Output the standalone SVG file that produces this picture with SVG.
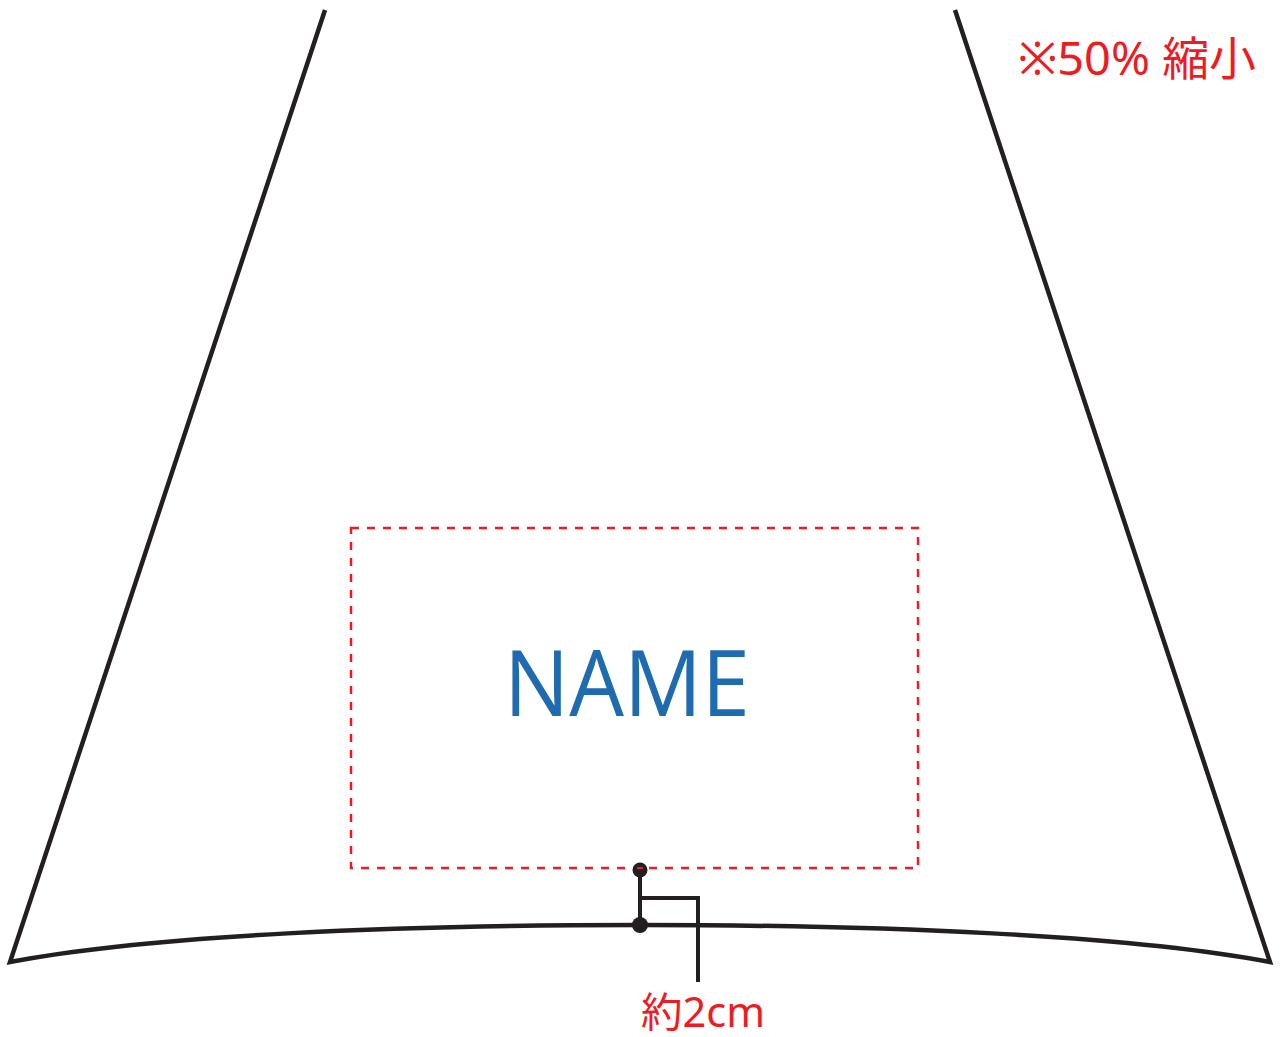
<svg xmlns="http://www.w3.org/2000/svg" width="1282" height="1037" viewBox="0 0 1282 1037">
<style>
.outline{fill:none;stroke:#231f20;stroke-width:4.5;stroke-linejoin:miter}
.dim{fill:none;stroke:#231f20;stroke-width:4}
.area{fill:none;stroke:#ed1c24;stroke-width:2.5;stroke-dasharray:8 8}
.red{fill:#ed1c24;font-family:"Noto Sans","Noto Sans CJK JP",sans-serif}
.name{fill:#1f6bb0;font-family:"Open Sans","Noto Sans",sans-serif}
</style>
<rect width="1282" height="1037" fill="#fff"/>
<g id="umbrella">
<path class="outline" d="M325 10 L10 962 C150 935 400 925 640 925 C880 925 1130 935 1270 962 L955 10"/>
</g>
<g id="print-area">
<rect class="area" x="351" y="528" width="567" height="340"/>
<text class="name" x="627" y="716" font-size="92" text-anchor="middle" textLength="246" lengthAdjust="spacingAndGlyphs">NAME</text>
</g>
<g id="connectors">
<line class="dim" x1="640" y1="870" x2="640" y2="925"/>
<path class="dim" d="M642 898 H698 V982"/>
<circle cx="640" cy="870" r="7.5" fill="#231f20"/>
<line x1="637" y1="868" x2="643" y2="868" stroke="#ed1c24" stroke-width="2"/>
<circle cx="640" cy="925" r="8" fill="#231f20"/>
</g>
<g id="label-distance">
<text class="red" x="641" y="1027" font-size="41" textLength="124" lengthAdjust="spacingAndGlyphs">約2cm</text>
</g>
<g id="label-scale">
<text class="red" x="1018" y="75" font-size="46" textLength="238" lengthAdjust="spacingAndGlyphs">※50% 縮小</text>
</g>
</svg>
